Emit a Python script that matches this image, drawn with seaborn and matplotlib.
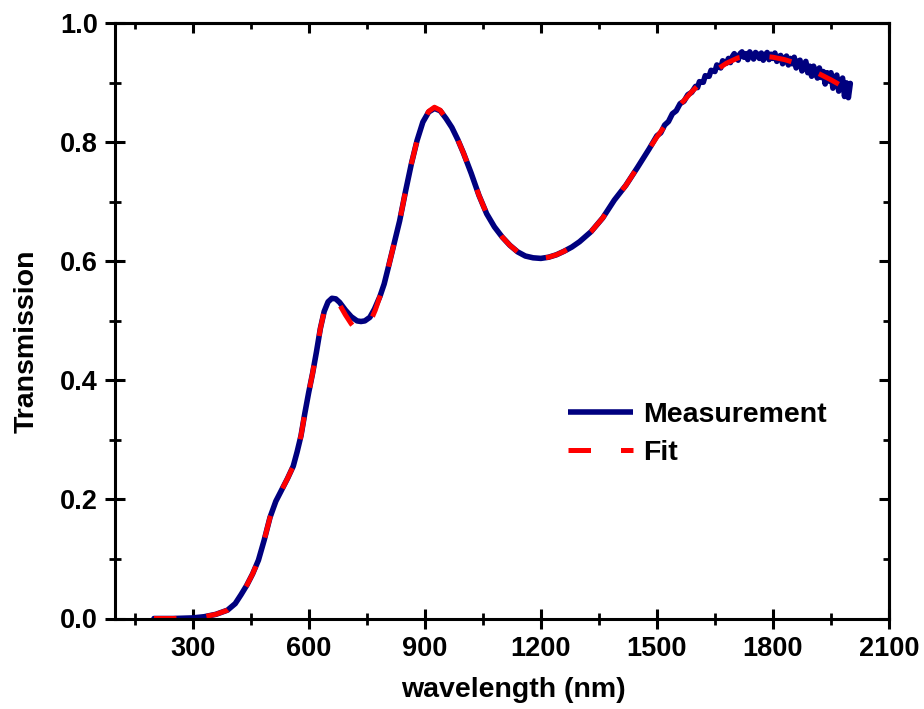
import numpy as np
import pandas as pd
import matplotlib
matplotlib.use("Agg")
import matplotlib.pyplot as plt
from matplotlib.ticker import MultipleLocator
import seaborn as sns

# ---------------- data ----------------
meas_wl = [200, 250, 300, 330, 360, 390, 410, 425, 440, 455, 470, 485, 500, 515,
           530, 545, 560, 570, 580, 590, 600, 610, 620, 630, 640, 650, 660, 670,
           680, 695, 710, 725, 735, 745, 758, 770, 784, 795, 805, 820, 835, 850,
           865, 880, 895, 910, 925, 940, 955, 970, 985, 1000, 1020, 1040, 1060,
           1080, 1100, 1120, 1140, 1160, 1180, 1200, 1220, 1240, 1260, 1280, 1300,
           1330, 1360, 1390, 1420, 1450, 1480,
           1500, 1510, 1520, 1530, 1540, 1550, 1560, 1570, 1580, 1590,
           1600, 1605, 1610, 1615, 1620, 1625, 1630, 1635, 1640, 1645,
           1650, 1655, 1660, 1665, 1670, 1675, 1680, 1685, 1690, 1695,
           1700, 1705, 1710, 1715, 1720, 1725, 1730, 1735, 1740, 1745,
           1750, 1755, 1760, 1765, 1770, 1775, 1780, 1785, 1790, 1795,
           1800, 1805, 1810, 1815, 1820, 1825, 1830, 1835, 1840, 1845,
           1850, 1855, 1860, 1865, 1870, 1875, 1880, 1885, 1890, 1895,
           1900, 1905, 1910, 1915, 1920, 1925, 1930, 1935, 1940, 1945,
           1950, 1955, 1960, 1965, 1970, 1975, 1980, 1985, 1990, 1995, 2000]
meas_T = [0.000, 0.000, 0.001, 0.003, 0.007, 0.014, 0.025, 0.040, 0.056, 0.075,
          0.098, 0.132, 0.170, 0.197, 0.216, 0.235, 0.256, 0.280, 0.307, 0.345,
          0.380, 0.412, 0.448, 0.487, 0.516, 0.532, 0.538, 0.537, 0.531, 0.518,
          0.507, 0.500, 0.499, 0.500, 0.506, 0.520, 0.541, 0.562, 0.588, 0.628,
          0.668, 0.717, 0.763, 0.803, 0.834, 0.851, 0.857, 0.853, 0.840, 0.825,
          0.805, 0.782, 0.748, 0.711, 0.680, 0.658, 0.641, 0.627, 0.616, 0.609,
          0.606, 0.605, 0.607, 0.611, 0.617, 0.624, 0.633, 0.650, 0.673, 0.703,
          0.728, 0.758, 0.789,
          0.811, 0.816, 0.829, 0.835, 0.848, 0.853, 0.865, 0.869, 0.880, 0.884,
          0.894, 0.892, 0.902, 0.901, 0.901, 0.912, 0.911, 0.911, 0.921, 0.920,
          0.919, 0.930, 0.928, 0.925, 0.937, 0.935, 0.933, 0.941, 0.934, 0.944,
          0.949, 0.943, 0.938, 0.949, 0.952, 0.943, 0.949, 0.939, 0.952, 0.946,
          0.940, 0.951, 0.948, 0.941, 0.950, 0.938, 0.947, 0.951, 0.939, 0.948,
          0.941, 0.950, 0.936, 0.944, 0.946, 0.932, 0.941, 0.945, 0.930, 0.941,
          0.932, 0.943, 0.925, 0.936, 0.938, 0.920, 0.930, 0.936, 0.917, 0.928,
          0.911, 0.928, 0.918, 0.908, 0.925, 0.909, 0.919, 0.898, 0.917, 0.903,
          0.917, 0.891, 0.908, 0.913, 0.886, 0.900, 0.908, 0.877, 0.900, 0.875, 0.899]

fit_wl = [200, 250, 300, 330, 360, 390, 410, 425, 440, 455, 470, 485, 500, 515,
          530, 545, 560, 570, 580, 590, 600, 610, 620, 630, 640, 650, 660, 670,
          680, 695, 710, 720, 730, 740, 750, 760, 772, 784, 795, 805, 820, 835,
          850, 865, 880, 895, 910, 925, 940, 955, 970, 985, 1000, 1020, 1040,
          1060, 1080, 1100, 1120, 1140, 1160, 1180, 1200, 1220, 1240, 1260, 1280,
          1300, 1330, 1360, 1390, 1420, 1450, 1480, 1500, 1530, 1560, 1590, 1620,
          1650, 1680, 1710, 1740, 1770, 1800, 1830, 1860, 1890, 1920, 1950, 1980,
          2000]
fit_T = [0.000, 0.000, 0.001, 0.003, 0.007, 0.014, 0.025, 0.040, 0.056, 0.075,
         0.098, 0.132, 0.170, 0.197, 0.216, 0.235, 0.256, 0.280, 0.307, 0.345,
         0.380, 0.412, 0.448, 0.487, 0.516, 0.532, 0.538, 0.535, 0.527, 0.510,
         0.495, 0.487, 0.483, 0.484, 0.490, 0.500, 0.518, 0.541, 0.562, 0.588,
         0.628, 0.668, 0.717, 0.763, 0.803, 0.834, 0.852, 0.859, 0.854, 0.840,
         0.825, 0.805, 0.782, 0.748, 0.711, 0.680, 0.658, 0.641, 0.627, 0.616,
         0.609, 0.606, 0.605, 0.607, 0.611, 0.617, 0.624, 0.633, 0.650, 0.673,
         0.703, 0.728, 0.758, 0.789, 0.809, 0.836, 0.863, 0.885, 0.904, 0.920,
         0.933, 0.942, 0.945, 0.945, 0.943, 0.939, 0.933, 0.924, 0.915, 0.905,
         0.894, 0.887]

x_major = [300, 600, 900, 1200, 1500, 1800, 2100]
y_major = [0.0, 0.2, 0.4, 0.6, 0.8, 1.0]
series_names = ["Measurement", "Fit"]

# ---------------- style ----------------
sns.set_theme(style="ticks")
plt.rcParams["font.family"] = ["Liberation Sans", "DejaVu Sans"]
plt.rcParams["font.weight"] = "bold"
plt.rcParams["axes.labelweight"] = "bold"
plt.rcParams["text.color"] = "black"
plt.rcParams["axes.labelcolor"] = "black"
plt.rcParams["xtick.color"] = "black"
plt.rcParams["ytick.color"] = "black"

W, H = 924, 709
fig = plt.figure(figsize=(W / 100, H / 100), dpi=100)
ax = fig.add_axes([115.3 / W, 1 - 618.5 / H, (889 - 115.3) / W, (618.5 - 23.3) / H])

meas_df = pd.DataFrame({"wavelength": meas_wl, "T": meas_T})
fit_df = pd.DataFrame({"wavelength": fit_wl, "T": fit_T})

sns.lineplot(data=meas_df, x="wavelength", y="T", ax=ax, color="#00007f",
             linewidth=4.0, label=series_names[0], sort=False,
             solid_joinstyle="round", solid_capstyle="round")
sns.lineplot(data=fit_df, x="wavelength", y="T", ax=ax, color="#ff0000",
             linewidth=3.6, label=series_names[1], sort=False)
ax.lines[-1].set_dashes([4.5, 6.0])
ax.lines[-1].set_dash_capstyle("butt")

ax.set_xlim(100, 2100)
ax.set_ylim(0, 1.0)
ax.set_xticks(x_major)
ax.set_yticks(y_major)
ax.set_yticklabels([f"{v:.1f}" for v in y_major])
ax.xaxis.set_minor_locator(MultipleLocator(150))
ax.yaxis.set_minor_locator(MultipleLocator(0.1))

for s in ax.spines.values():
    s.set_linewidth(2.2)
    s.set_color("black")

ax.tick_params(axis="both", which="major", direction="inout", length=15,
               width=2.2, color="black", labelsize=19.5, labelcolor="black")
ax.tick_params(axis="both", which="minor", direction="inout", length=8,
               width=2.0, color="black")
ax.tick_params(axis="x", which="major", pad=5)
ax.tick_params(axis="y", which="major", pad=5)
for lab in ax.get_xticklabels() + ax.get_yticklabels():
    lab.set_fontweight("bold")

# top / right inward ticks
secx = ax.secondary_xaxis("top")
secx.set_xticks(x_major)
secx.xaxis.set_minor_locator(MultipleLocator(150))
secx.tick_params(which="major", direction="in", length=7.5, width=2.2, labeltop=False)
secx.tick_params(which="minor", direction="in", length=4, width=2.0)
secx.spines["top"].set_linewidth(2.2)
secy = ax.secondary_yaxis("right")
secy.set_yticks(y_major)
secy.yaxis.set_minor_locator(MultipleLocator(0.1))
secy.tick_params(which="major", direction="in", length=7.5, width=2.2, labelright=False)
secy.tick_params(which="minor", direction="in", length=4, width=2.0)
secy.spines["right"].set_linewidth(2.2)

ax.set_xlabel("wavelength (nm)", fontsize=20.5, fontweight="bold", color="black")
ax.set_ylabel("Transmission", fontsize=20.5, fontweight="bold", color="black")
ax.xaxis.label.set_va("center")
ax.yaxis.label.set_va("center")
ax.xaxis.set_label_coords((513 - 115.3) / 773.7, (618.5 - 690) / 595.2)
ax.yaxis.set_label_coords((27 - 115.3) / 773.7, (618.5 - 341) / 595.2)

leg = ax.legend(loc="center left", bbox_to_anchor=(0.585, 0.31), frameon=False,
                fontsize=20.5, handlelength=2.3, handletextpad=0.35,
                labelspacing=0.4, borderpad=0, borderaxespad=0)
for t in leg.get_texts():
    t.set_fontweight("bold")
    t.set_color("black")
for h in leg.get_lines():
    h.set_solid_capstyle("butt")

fig.savefig("out.png", dpi=100)
